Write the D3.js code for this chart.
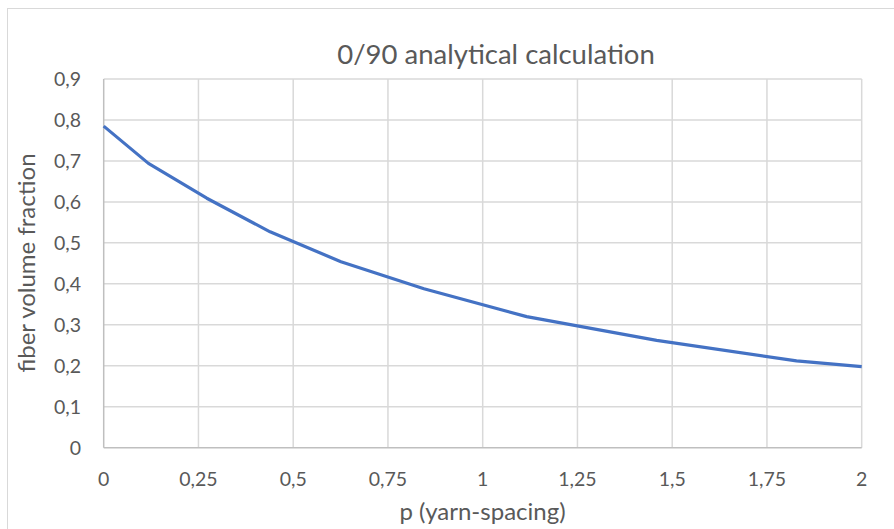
<!DOCTYPE html>
<html><head><meta charset="utf-8">
<script src="https://cdn.jsdelivr.net/npm/d3@7"></script>
<style>body{margin:0;background:#fff}text{font-family:Lato,"Open Sans",sans-serif;fill:#595959}</style>
</head><body><svg id="c" width="894" height="529"></svg>
<script>
const title = "0/90 analytical calculation";
const xLabel = "p (yarn-spacing)";
const yLabel = "fiber volume fraction";
const pValues = [0, 0.118, 0.272, 0.439, 0.626, 0.845, 1.116, 1.459, 1.828, 2];
const vfValues = [0.785, 0.694, 0.609, 0.527, 0.454, 0.388, 0.320, 0.262, 0.212, 0.198];
const xTicks = [0, 0.25, 0.5, 0.75, 1, 1.25, 1.5, 1.75, 2];
const yTicks = [0, 0.1, 0.2, 0.3, 0.4, 0.5, 0.6, 0.7, 0.8, 0.9];

const svg = d3.select("#c");
svg.append("rect").attr("x",7.5).attr("y",8.5).attr("width",900).attr("height",600)
  .attr("fill","#fff").attr("stroke","#d9d9d9");
const x = d3.scaleLinear().domain([0,2]).range([103.7,861.7]);
const y = d3.scaleLinear().domain([0,0.9]).range([447.7,79]);
const fmt = d => String(d).replace(".", ",");

svg.append("g").selectAll("line").data(yTicks.slice(1)).join("line")
  .attr("x1",x(0)).attr("x2",x(2)).attr("y1",d=>y(d)).attr("y2",d=>y(d))
  .attr("stroke","#d9d9d9").attr("stroke-width",1.5);
svg.append("g").selectAll("line").data(xTicks.slice(1)).join("line")
  .attr("x1",d=>x(d)).attr("x2",d=>x(d)).attr("y1",y(0)).attr("y2",y(0.9))
  .attr("stroke","#d9d9d9").attr("stroke-width",1.5);
svg.append("line").attr("x1",x(0)).attr("x2",x(2)).attr("y1",y(0)).attr("y2",y(0))
  .attr("stroke","#bfbfbf").attr("stroke-width",1.5);
svg.append("line").attr("x1",x(0)).attr("x2",x(0)).attr("y1",y(0)).attr("y2",y(0.9))
  .attr("stroke","#bfbfbf").attr("stroke-width",1.5);

svg.append("g").selectAll("text").data(yTicks).join("text")
  .attr("x",81).attr("y",d=>y(d)+7).attr("text-anchor","end")
  .attr("font-size",19.5).text(fmt);
svg.append("g").selectAll("text").data(xTicks).join("text")
  .attr("x",d=>x(d)).attr("y",486).attr("text-anchor","middle")
  .attr("font-size",19.5).text(fmt);

const pts = pValues.map((p,i)=>[p, vfValues[i]]);
svg.append("path").datum(pts)
  .attr("d", d3.line().x(d=>x(d[0])).y(d=>y(d[1])))
  .attr("fill","none").attr("stroke","#4472c4").attr("stroke-width",3.2)
  .attr("stroke-linejoin","round");

svg.append("text").attr("x",496).attr("y",64).attr("text-anchor","middle")
  .attr("font-size",27.5).text(title);
svg.append("text").attr("x",482.5).attr("y",520).attr("text-anchor","middle")
  .attr("font-size",24).text(xLabel);
svg.append("text").attr("transform","translate(35,263) rotate(-90)").attr("text-anchor","middle")
  .attr("font-size",24).text(yLabel);
</script></body></html>
